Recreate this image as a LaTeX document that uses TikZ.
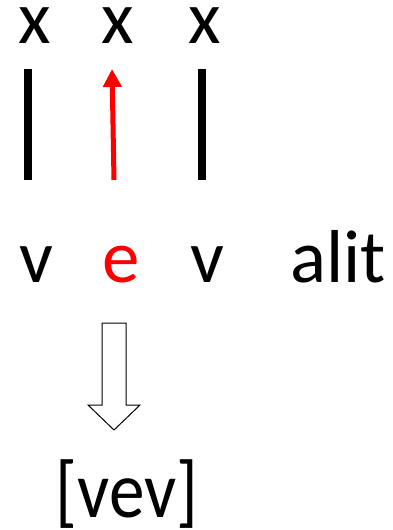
\documentclass[tikz,border=0pt]{standalone}
\usepackage{fontspec}
\usepackage{graphicx}
\setmainfont{Carlito}
\usetikzlibrary{arrows.meta}
\definecolor{markred}{RGB}{255,0,0}
\tikzset{
  seg/.style={inner sep=0pt,anchor=base,font=\fontsize{75}{80}\selectfont},
  bigseg/.style={inner sep=0pt,anchor=base,font=\fontsize{80}{86}\selectfont},
  tier/.style={line width=8pt},
  spread/.style={markred,line width=5pt,-{Triangle[length=18pt,width=18pt]}}
}

\begin{document}
\begin{tikzpicture}[x=1pt,y=-1pt]
  \useasboundingbox (0,0) rectangle (393,530);
  % skeletal slots
  \node[seg] (x1) at (35,43) {x};
  \node[seg] (x2) at (118,43) {x};
  \node[seg] (x3) at (205,43) {x};
  % melody
  \node[seg] (v1) at (36,282) {v};
  \node[seg,color=markred] (e) at (121,282) {e};
  \node[seg] (v2) at (207,282) {v};
  \node[seg] (alit) at (338,282) {alit};
  % association lines
  \coordinate (t1) at (27.5,69);
  \coordinate (b1) at (27.5,180);
  \coordinate (t3) at (201.5,69);
  \coordinate (b3) at (201.5,180);
  \coordinate (t2) at (112,69);
  \coordinate (b2) at (114,180);
  \draw[tier] (t1) -- (b1);
  \draw[tier] (t3) -- (b3);
  \draw[spread] (b2) -- (t2);
  % derivation arrow
  \draw[line width=1pt,line join=miter]
    (102,323) -- (126,323) -- (126,405) -- (140,405) -- (114,430)
    -- (88,405) -- (102,405) -- cycle;
  \node[bigseg] (out) at (127,517) {\scalebox{0.89}[1]{[vev]}};
\end{tikzpicture}
\end{document}
